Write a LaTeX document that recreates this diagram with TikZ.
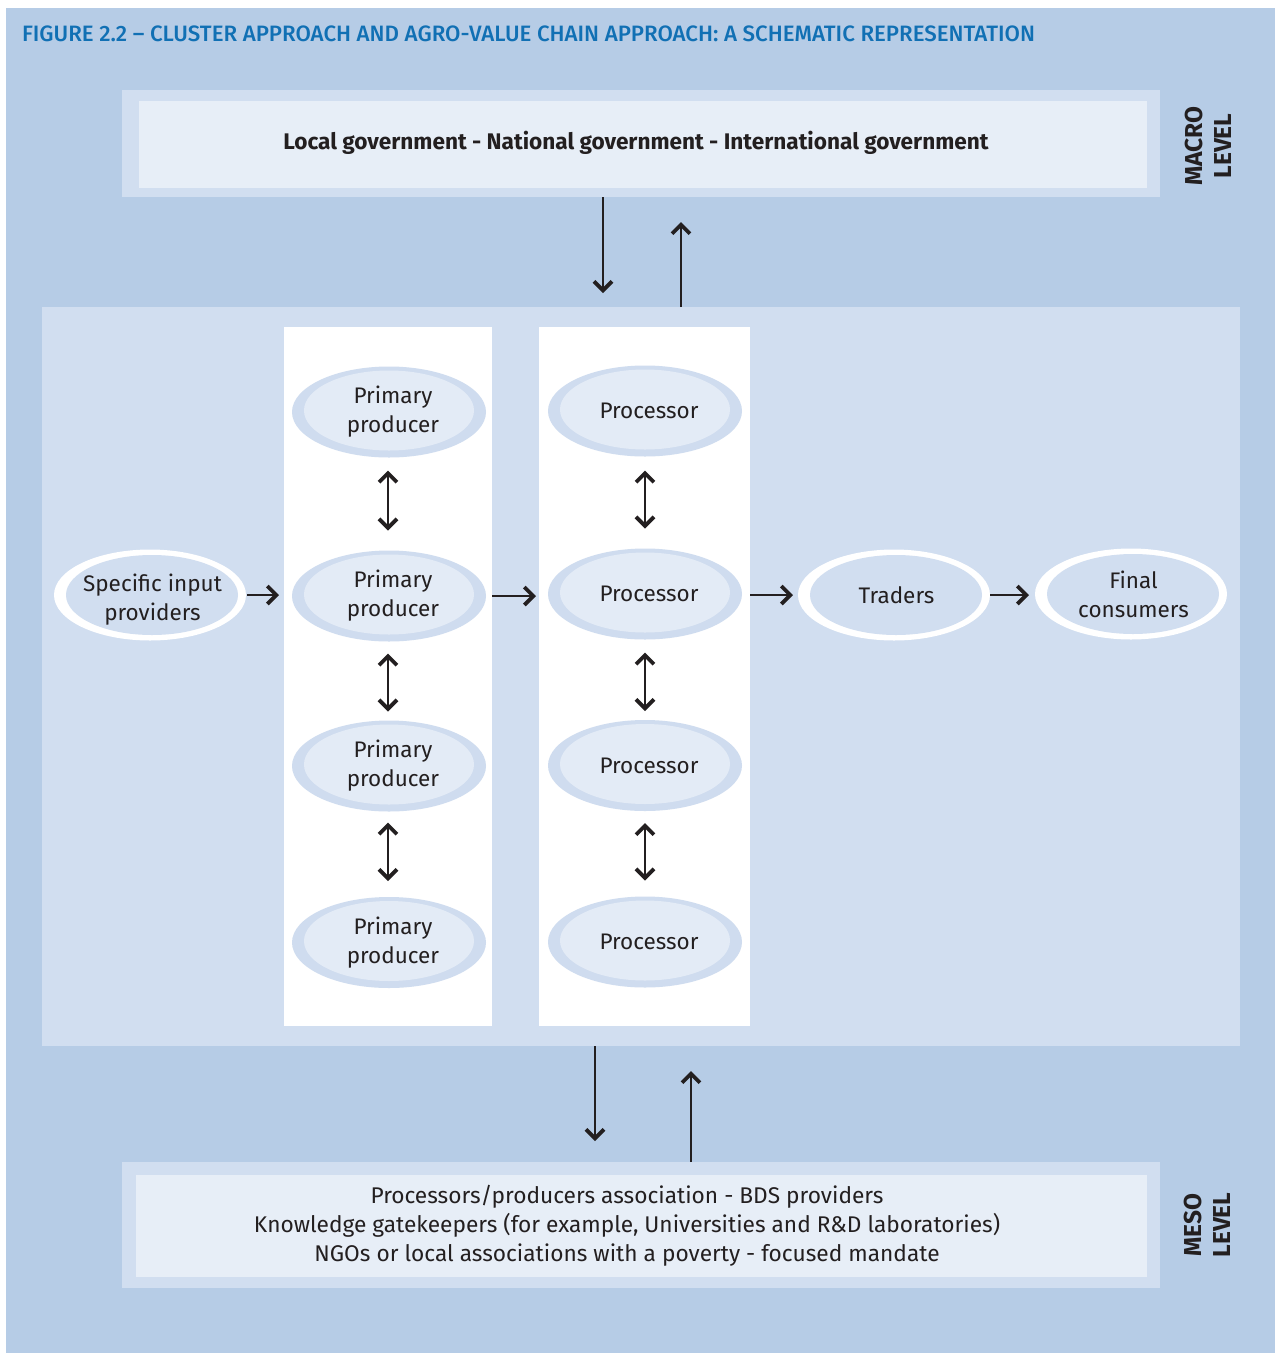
\documentclass[tikz,border=0pt]{standalone}
\usepackage{fontspec}
\setmainfont{Fira Sans}
\newfontfamily\headfont{Fira Sans Medium}
\usetikzlibrary{arrows.meta,shapes.geometric}
\definecolor{bgblue}{HTML}{B6CCE6}
\definecolor{panelblue}{HTML}{D1DEF0}
\definecolor{paleblue}{HTML}{E7EEF7}
\definecolor{ellring}{HTML}{CFDCEF}
\definecolor{ellfill}{HTML}{E3EBF6}
\definecolor{titleblue}{HTML}{1170B4}
\definecolor{ink}{HTML}{231F20}

\tikzset{
  every node/.style={inner sep=0pt, outer sep=0pt},
  box/.style={anchor=north west, draw=none},
  txt/.style={font=\fontsize{22.5}{29}\selectfont, text=ink, align=center},
  % ellipse inside a white column: pale fill with a darker crescent
  colell/.style={ellipse, minimum width=194pt, minimum height=91pt, fill=ellring,
    path picture={\fill[ellfill] ([yshift=1.5pt]path picture bounding box.center)
      ellipse [x radius=85pt, y radius=40pt];},
    label={[txt, xshift=4pt]center:{#1}}},
  % ellipse on the panel: blue fill in a white ring
  ringell/.style={ellipse, minimum width=192pt, minimum height=91pt, fill=white,
    path picture={\fill[panelblue] ([xshift=2pt]path picture bounding box.center)
      ellipse [x radius=86pt, y radius=40pt];}},
  barb/.tip={Straight Barb[length=9pt,width=18pt,line width=3.8pt]},
  arr/.style={draw=ink, line width=2pt, -barb},
  darr/.style={draw=ink, line width=2pt, barb-barb},
  lvl/.style={rotate=90, align=center, text=ink, font=\fontsize{24.5}{29}\selectfont\bfseries}
}

\begin{document}
\begin{tikzpicture}[x=1pt,y=-1pt]
\useasboundingbox (0,0) rectangle (1275,1353);
\fill[bgblue] (6,8) rectangle (1275,1353);

% heading
\node[anchor=base west, text=titleblue] (title) at (22,41)
  {\resizebox{1013pt}{15.7pt}{\fontsize{23}{28}\headfont FIGURE 2.2 – CLUSTER APPROACH AND AGRO-VALUE CHAIN APPROACH: A SCHEMATIC REPRESENTATION}};

% macro level
\node[box, fill=panelblue, minimum width=1038pt, minimum height=107pt] (macro) at (122,90) {};
\node[box, fill=paleblue, minimum width=1008pt, minimum height=87pt] (macroin) at (139,101) {};
\node[txt, font=\fontsize{22.6}{29}\selectfont\bfseries] (macrotxt) at (636,143)
  {Local government - National government - International government};
\node[lvl] (macrolbl) at (1208,146) {MACRO\\LEVEL};

% central panel and the two columns
\node[box, fill=panelblue, minimum width=1198pt, minimum height=739pt] (panel) at (42,307) {};
\node[box, fill=white, minimum width=208pt, minimum height=699pt] (col1) at (284,327) {};
\node[box, fill=white, minimum width=211pt, minimum height=699pt] (col2) at (539,327) {};

% meso level
\node[box, fill=panelblue, minimum width=1038pt, minimum height=126pt] (meso) at (122,1162) {};
\node[box, fill=paleblue, minimum width=1011pt, minimum height=102pt] (mesoin) at (136,1175) {};
\node[txt, font=\fontsize{22.7}{29}\selectfont] (mesotxt) at (627,1226)
  {Processors/producers association - BDS providers\\
   Knowledge gatekeepers (for example, Universities and R\&D laboratories)\\
   NGOs or local associations with a poverty - focused mandate};
\node[lvl] (mesolbl) at (1207,1225) {MESO\\LEVEL};

% producers
\node[colell={Primary\\producer}] (pp1) at (389,412) {};
\node[colell={Primary\\producer}] (pp2) at (389,596) {};
\node[colell={Primary\\producer}] (pp3) at (389,766) {};
\node[colell={Primary\\producer}] (pp4) at (389,942.5) {};

% processors
\node[colell={Processor}] (pr1) at (645,411) {};
\node[colell={Processor}] (pr2) at (645,594) {};
\node[colell={Processor}] (pr3) at (645,765.5) {};
\node[colell={Processor}] (pr3b) at (645,942) {};

% chain ends
\node[ringell, label={[txt, xshift=2.5pt, yshift=-4.5pt]center:{Specific input\\providers}}] (spec) at (150,595) {};
\node[ringell, label={[txt, xshift=2.5pt]center:{Traders}}] (trad) at (894,595) {};
\node[ringell, label={[txt, xshift=2.5pt]center:{Final\\consumers}}] (cons) at (1131,594) {};

% links between levels
\draw[arr, shorten >=14pt] ([xshift=-38pt]macro.south) -- ([xshift=-38pt]macro.south |- panel.north);
\draw[arr, shorten >=25pt] ([xshift=40pt]macro.south |- panel.north) -- ([xshift=40pt]macro.south);
\draw[arr, shorten >=21pt] ([xshift=-46pt]meso.north |- panel.south) -- ([xshift=-46pt]meso.north);
\draw[arr, shorten >=25pt] ([xshift=50pt]meso.north) -- ([xshift=50pt]meso.north |- panel.south);

% links inside the columns
\draw[darr, shorten <=13pt, shorten >=20pt] ([xshift=-1pt]pp1.south) -- ([xshift=-1pt]pp2.north);
\draw[darr, shorten <=12pt, shorten >=9pt] ([xshift=-1pt]pp2.south) -- ([xshift=-1pt]pp3.north);
\draw[darr, shorten <=11pt, shorten >=16pt] ([xshift=-1pt]pp3.south) -- ([xshift=-1pt]pp4.north);
\draw[darr, shorten <=14pt, shorten >=20pt] (pr1.south) -- (pr2.north);
\draw[darr, shorten <=13pt, shorten >=9pt] (pr2.south) -- (pr3.north);
\draw[darr, shorten <=12pt, shorten >=16pt] (pr3.south) -- (pr3b.north);

% the chain
\draw[arr, shorten <=1pt, shorten >=5pt] (spec.east) -- (col1.west |- spec.east);
\draw[arr, shorten >=3pt] (col1.east |- pp2.center) -- (col2.west |- pp2.center);
\draw[arr, shorten >=5pt] (col2.east |- trad.west) -- (trad.west);
\draw[arr, shorten >=6pt] (trad.east) -- (cons.west |- trad.east);
\end{tikzpicture}
\end{document}
